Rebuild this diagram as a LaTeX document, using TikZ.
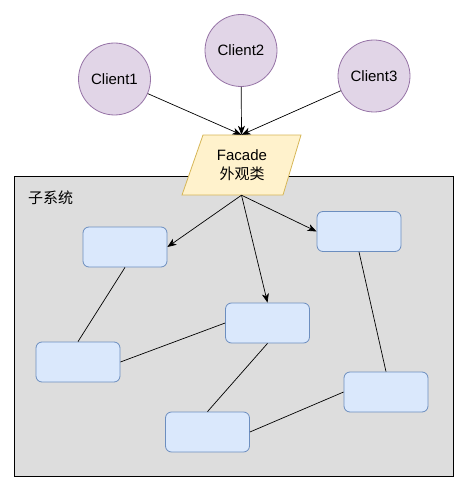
\documentclass[tikz,border=0pt]{standalone}
\usepackage{fontspec}
\setmainfont{Liberation Sans}
\newfontfamily\cjk{Noto Sans CJK SC}
\usetikzlibrary{arrows.meta}
\definecolor{clientfill}{HTML}{E1D5E7}
\definecolor{clientdraw}{HTML}{9673A6}
\definecolor{facfill}{HTML}{FFF2CC}
\definecolor{facdraw}{HTML}{D6B656}
\definecolor{boxfill}{HTML}{DAE8FC}
\definecolor{boxdraw}{HTML}{6C8EBF}
\definecolor{subfill}{HTML}{DDDDDD}
\tikzset{
  client/.style={circle, draw=clientdraw, fill=clientfill, line width=0.8pt, minimum size=72pt, inner sep=0pt, font=\fontsize{15}{18}\selectfont},
  subbox/.style={rectangle, rounded corners=6pt, draw=boxdraw, fill=boxfill, line width=0.8pt, minimum width=84pt, minimum height=40pt, inner sep=0pt},
  arr/.style={draw=black, line width=0.7pt, -{Stealth[length=9pt,width=7pt,inset=2.5pt]}},
  link/.style={draw=black, line width=0.7pt}
}
\begin{document}
\begin{tikzpicture}[x=1pt,y=-1pt]
\useasboundingbox (0,0) rectangle (467,484);
% subsystem frame
\node[draw=black, fill=subfill, line width=1pt, minimum width=439pt, minimum height=300pt, inner sep=0pt] (sub) at (233.5,326) {};
\node[anchor=west, inner sep=0pt, font=\cjk\fontsize{15}{18}\selectfont] (sublabel) at (28,198) {子系统};
% subsystem boxes
\node[subbox] (b1) at (125,247) {};
\node[subbox] (b2) at (359,231.5) {};
\node[subbox] (b3) at (267.5,323) {};
\node[subbox] (b4) at (78,362) {};
\node[subbox] (b5) at (386,392) {};
\node[subbox] (b6) at (207.5,432) {};
% facade
\node[minimum width=119pt, minimum height=60pt, inner sep=0pt] (facade) at (241.5,165) {};
\fill[facfill, draw=facdraw, line width=0.8pt] (203,135) -- (301,135) -- (283,195) -- (182,195) -- cycle;
\node[align=center, inner sep=0pt, font=\fontsize{15}{19}\selectfont] (factext) at (242,165) {Facade\\{\cjk 外观类}};
% clients
\node[client] (c1) at (114.5,79) {Client1};
\node[client] (c2) at (241,50.5) {Client2};
\node[client] (c3) at (374,76) {Client3};
% arrows
\draw[arr] (c1) -- (facade.north);
\draw[arr] (c2) -- (facade.north);
\draw[arr] (c3) -- (facade.north);
\draw[arr] (facade.south) -- (b1.east);
\draw[arr] (facade.south) -- (b3.north);
\draw[arr] (facade.south) -- (b2.west);
% links
\draw[link] (b1.south) -- (b4.north);
\draw[link] (b4.east) -- (b3.west);
\draw[link] (b3.south) -- (b6.north);
\draw[link] (b6.east) -- (b5.west);
\draw[link] (b2.south) -- (b5.north);
\end{tikzpicture}
\end{document}
